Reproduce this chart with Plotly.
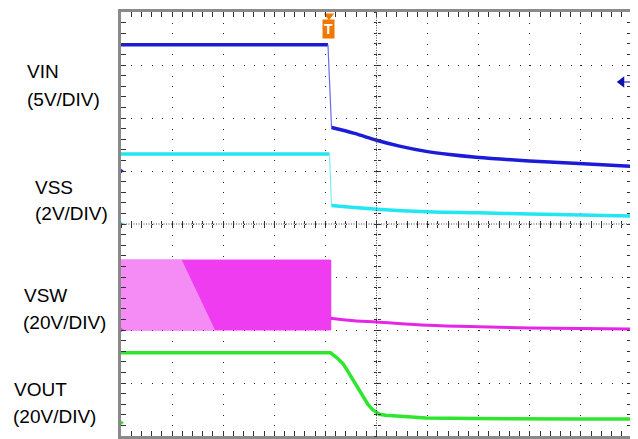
import plotly.graph_objects as go

# ---------------- data (oscilloscope divisions: x 0..10, y -4..4) ----------------
vin_t = [0.0, 4.05, 4.07, 4.10, 4.12, 4.57, 5.0, 5.45, 5.97, 6.43, 6.95, 7.99, 8.96, 10.0]
vin_v = [3.38, 3.38, 3.0, 2.2, 1.82, 1.71, 1.58, 1.47, 1.37, 1.31, 1.26, 1.19, 1.14, 1.09]

vss_t = [0.0, 4.08, 4.10, 4.12, 5.0, 6.0, 7.0, 8.0, 9.0, 10.0]
vss_v = [1.32, 1.32, 0.8, 0.35, 0.28, 0.23, 0.21, 0.19, 0.17, 0.15]

vsw_band_t = [0.0, 4.1]
vsw_band_hi = [-0.68, -0.68]
vsw_band_lo = [-2.0, -2.0]
vsw_light_t = [0.0, 1.19, 1.84, 0.0]
vsw_light_v = [-0.68, -0.68, -2.0, -2.0]
vsw_t = [4.1, 4.6, 5.0, 6.0, 7.0, 8.0, 9.0, 10.0]
vsw_v = [-1.78, -1.83, -1.85, -1.91, -1.94, -1.96, -1.97, -1.98]

vout_t = [0.0, 4.10, 4.22, 4.34, 4.44, 4.54, 4.64, 4.73, 4.83, 4.93, 5.0, 5.06, 5.18, 5.31, 5.6, 5.97,
          6.95, 7.92, 8.9, 10.0]
vout_v = [-2.43, -2.43, -2.52, -2.63, -2.78, -2.94, -3.10, -3.26, -3.40, -3.51, -3.56, -3.59, -3.61,
          -3.62, -3.64, -3.66, -3.67, -3.68, -3.68, -3.68]

channel_names = ["VIN", "VSS", "VSW", "VOUT"]
channel_scales = ["(5V/DIV)", "(2V/DIV)", "(20V/DIV)", "(20V/DIV)"]
channel_colors = ["#1c1cd8", "#22e6f2", "#f03cf0", "#2ee62e"]
ground_levels = [1.0, 0.0, -2.0, -3.75]
trigger_time = 4.07
trigger_level = 2.68

FONT = "Liberation Sans, Arial, sans-serif"

fig = go.Figure()

# VIN: flat, thin fast edge, decay
fig.add_trace(go.Scatter(x=vin_t[:2], y=vin_v[:2], mode="lines",
                         line=dict(color=channel_colors[0], width=3.5)))
fig.add_trace(go.Scatter(x=vin_t[1:5], y=vin_v[1:5], mode="lines",
                         line=dict(color="#6a6af0", width=1.2)))
fig.add_trace(go.Scatter(x=vin_t[4:], y=vin_v[4:], mode="lines", line_shape="spline",
                         line=dict(color=channel_colors[0], width=3.5)))

# VSS
fig.add_trace(go.Scatter(x=vss_t[:2], y=vss_v[:2], mode="lines",
                         line=dict(color=channel_colors[1], width=3.5)))
fig.add_trace(go.Scatter(x=vss_t[1:4], y=vss_v[1:4], mode="lines",
                         line=dict(color="#7af0f6", width=1.2)))
fig.add_trace(go.Scatter(x=vss_t[3:], y=vss_v[3:], mode="lines", line_shape="spline",
                         line=dict(color=channel_colors[1], width=3.5)))

# VSW switching band
fig.add_trace(go.Scatter(x=vsw_band_t, y=vsw_band_lo, mode="lines",
                         line=dict(color=channel_colors[2], width=1)))
fig.add_trace(go.Scatter(x=vsw_band_t, y=vsw_band_hi, mode="lines", fill="tonexty",
                         fillcolor=channel_colors[2], line=dict(color=channel_colors[2], width=1)))
fig.add_trace(go.Scatter(x=vsw_light_t, y=vsw_light_v, mode="lines", fill="toself",
                         fillcolor="#f58cf5", line=dict(width=0)))
fig.add_trace(go.Scatter(x=[vsw_band_t[-1], vsw_band_t[-1]], y=[vsw_band_lo[-1], vsw_band_hi[-1]],
                         mode="lines", line=dict(color=channel_colors[2], width=1.5)))
fig.add_trace(go.Scatter(x=vsw_t, y=vsw_v, mode="lines", line_shape="spline",
                         line=dict(color="#e626e6", width=3)))

# VOUT
fig.add_trace(go.Scatter(x=vout_t, y=vout_v, mode="lines",
                         line=dict(color=channel_colors[3], width=3.5)))

# ground markers on left edge
fig.add_trace(go.Scatter(x=[0] * 4, y=ground_levels, mode="markers", cliponaxis=False,
                         marker=dict(symbol="triangle-right", size=6, color=channel_colors)))

# trigger level marker (right)
fig.add_trace(go.Scatter(x=[9.78, 10.0], y=[trigger_level, trigger_level], mode="lines",
                         line=dict(color="#5a5ad8", width=1.5), cliponaxis=False))
fig.add_trace(go.Scatter(x=[9.8], y=[trigger_level], mode="markers", cliponaxis=False,
                         marker=dict(symbol="triangle-left", size=10, color="#1010b0")))

# trigger time marker (top)
fig.add_trace(go.Scatter(x=[trigger_time], y=[3.93], mode="markers", cliponaxis=False,
                         marker=dict(symbol="triangle-down", size=9, color="#f07800")))
fig.add_annotation(x=trigger_time, y=3.68, xref="x", yref="y", text="<b>T</b>",
                   showarrow=False, bgcolor="#f07800", borderpad=1,
                   font=dict(family=FONT, size=14, color="white"))

# dummy traces for crosshair tick axes
for xa, ya in [("x", "y2"), ("x", "y3"), ("x2", "y"), ("x3", "y")]:
    fig.add_trace(go.Scatter(x=[None], y=[None], xaxis=xa, yaxis=ya, mode="lines"))

# center crosshair (dense dotted)
fig.add_shape(type="line", x0=5, x1=5, y0=-4, y1=4, xref="x", yref="y",
              line=dict(color="#444", width=1, dash="1px,1.5px"), layer="above")
fig.add_shape(type="line", x0=0, x1=10, y0=0, y1=0, xref="x", yref="y",
              line=dict(color="#444", width=1, dash="1px,1.5px"), layer="above")

# channel labels (positions in page pixels, converted to paper coords of the plot area)
label_px = [(25, 72, 25, 99), (33, 187, 33, 214), (22, 295, 21, 322), (12, 389, 11, 416)]
for i, (x1, y1, x2, y2) in enumerate(label_px):
    for txt, px, py in [(channel_names[i], x1, y1), (channel_scales[i], x2, y2)]:
        fig.add_annotation(x=(px - 121) / 511, y=(436 - py) / 424, xref="paper", yref="paper",
                           text=txt, showarrow=False, xanchor="left", yanchor="middle",
                           font=dict(family=FONT, size=19, color="black"))

axis_common = dict(showticklabels=False, zeroline=False, fixedrange=True, automargin=False)
# page body has an 8px default margin, so the plot area offsets compensate for it
fig.update_layout(
    width=638, height=439,
    margin=dict(l=113, r=14, t=4, b=11, autoexpand=False),
    paper_bgcolor="white", plot_bgcolor="white",
    showlegend=False,
    xaxis=dict(range=[0, 10], dtick=1, tick0=0, showgrid=True, gridcolor="#222",
               griddash="1px,9.6px", gridwidth=1, showline=True, linecolor="#8a8a8a",
               linewidth=3, mirror="allticks", ticks="inside", ticklen=5, tickcolor="#333",
               minor=dict(dtick=0.2, tick0=0, ticks="inside", ticklen=3, tickcolor="#333",
                          showgrid=False),
               layer="above traces", **axis_common),
    yaxis=dict(range=[-4, 4], dtick=1, tick0=0, showgrid=True, gridcolor="#222",
               griddash="1px,9.22px", gridwidth=1, showline=True, linecolor="#8a8a8a",
               linewidth=3, mirror="allticks", ticks="inside", ticklen=5, tickcolor="#333",
               minor=dict(dtick=0.2, tick0=0, ticks="inside", ticklen=3, tickcolor="#333",
                          showgrid=False),
               layer="above traces", **axis_common),
    yaxis2=dict(overlaying="y", anchor="free", position=0.5, range=[-4, 4], dtick=0.2, tick0=0,
                ticks="outside", ticklen=3, tickcolor="#333", showgrid=False, showline=False,
                **axis_common),
    yaxis3=dict(overlaying="y", anchor="free", position=0.5, range=[-4, 4], dtick=0.2, tick0=0,
                ticks="inside", ticklen=3, tickcolor="#333", showgrid=False, showline=False,
                **axis_common),
    xaxis2=dict(overlaying="x", anchor="free", position=0.5, range=[0, 10], dtick=0.2, tick0=0,
                ticks="outside", ticklen=3, tickcolor="#333", showgrid=False, showline=False,
                **axis_common),
    xaxis3=dict(overlaying="x", anchor="free", position=0.5, range=[0, 10], dtick=0.2, tick0=0,
                ticks="inside", ticklen=3, tickcolor="#333", showgrid=False, showline=False,
                **axis_common),
)

fig.write_html("out.html")
